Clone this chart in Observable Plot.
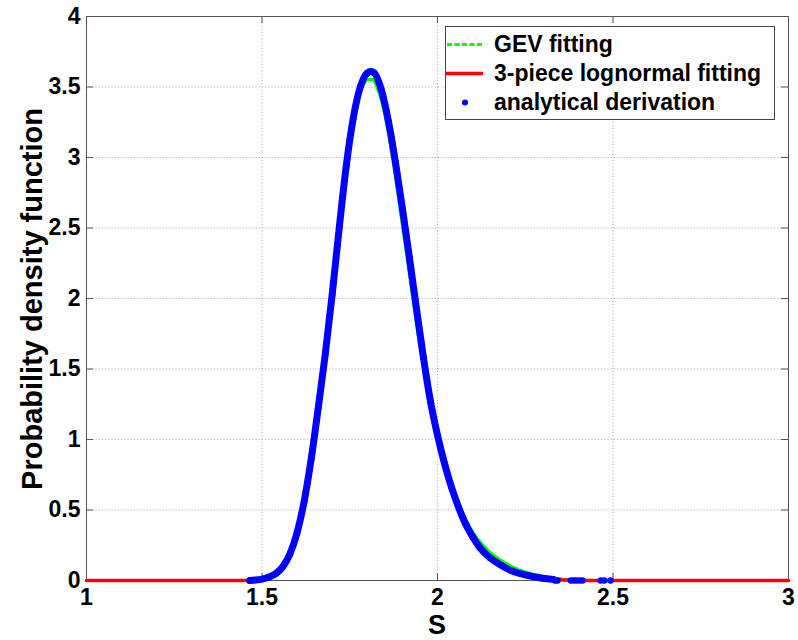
<!DOCTYPE html>
<html>
<head>
<meta charset="utf-8">
<script src="https://cdn.jsdelivr.net/npm/d3@7"></script>
<script src="https://cdn.jsdelivr.net/npm/@observablehq/plot@0.6"></script>
<style>
  body { margin: 0; background: #fff; }
  #wrap { position: relative; width: 798px; height: 640px; font-family: "Liberation Sans", Arial, sans-serif; font-weight: bold; color: #000; }
  #wrap svg { position: absolute; left: 0; top: 0; }
  .ylabel { position: absolute; left: 32px; top: 299px; transform: translate(-50%, -50%) rotate(-90deg); white-space: nowrap; font-size: 29px; line-height: 28px; }
  .xlabel { position: absolute; left: 437px; top: 615px; transform: translateX(-50%); font-size: 27px; line-height: 20px; }
  .legend { position: absolute; left: 445px; top: 26px; width: 328px; height: 92px; border: 1px solid #444; background: #fff; }
  .legend .row { position: absolute; left: 0; height: 29px; width: 100%; }
  .legend .row svg { position: absolute; left: 6px; top: 0; }
  .legend .row span { position: absolute; left: 48px; top: 0; font-size: 23px; line-height: 29px; white-space: nowrap; }
</style>
</head>
<body>
<div id="wrap"></div>
<script>
// Axis ticks and labels
const xTicks = [1, 1.5, 2, 2.5, 3];
const xTickLabels = ["1", "1.5", "2", "2.5", "3"];
const yTicks = [0, 0.5, 1, 1.5, 2, 2.5, 3, 3.5, 4];
const yTickLabels = ["0", "0.5", "1", "1.5", "2", "2.5", "3", "3.5", "4"];

// Series names
const seriesNames = ["GEV fitting", "3-piece lognormal fitting", "analytical derivation"];

// GEV fitting
const gevS   = [1.47, 1.50, 1.52, 1.54, 1.56, 1.58, 1.60, 1.62, 1.64, 1.66, 1.68, 1.70, 1.72, 1.74, 1.76, 1.78, 1.80, 1.815, 1.83, 1.85, 1.87, 1.89, 1.91, 1.93, 1.95, 1.97, 1.99, 2.01, 2.03, 2.05, 2.07, 2.09, 2.11, 2.13, 2.16, 2.19, 2.22, 2.26, 2.30, 2.35, 2.40, 2.45];
const gevPdf = [0, 0.01, 0.03, 0.06, 0.11, 0.20, 0.35, 0.57, 0.88, 1.25, 1.66, 2.09, 2.55, 3.00, 3.30, 3.47, 3.55, 3.555, 3.48, 3.30, 3.02, 2.69, 2.34, 1.99, 1.66, 1.37, 1.13, 0.93, 0.75, 0.61, 0.49, 0.39, 0.31, 0.25, 0.18, 0.13, 0.09, 0.055, 0.03, 0.012, 0.004, 0];

// 3-piece lognormal fitting
const lognS   = [1.0, 1.2, 1.4, 1.465, 1.48, 1.50, 1.52, 1.54, 1.56, 1.58, 1.60, 1.62, 1.64, 1.66, 1.68, 1.70, 1.72, 1.74, 1.76, 1.78, 1.80, 1.81, 1.82, 1.84, 1.86, 1.88, 1.90, 1.92, 1.94, 1.96, 1.98, 2.00, 2.02, 2.04, 2.06, 2.08, 2.10, 2.12, 2.15, 2.18, 2.21, 2.25, 2.29, 2.33, 2.36, 2.40, 2.6, 2.8, 3.0];
const lognPdf = [0, 0, 0, 0, 0.003, 0.01, 0.025, 0.05, 0.10, 0.19, 0.34, 0.56, 0.86, 1.22, 1.60, 2.03, 2.50, 2.94, 3.28, 3.50, 3.59, 3.60, 3.59, 3.48, 3.26, 2.97, 2.64, 2.29, 1.93, 1.58, 1.27, 1.03, 0.83, 0.66, 0.52, 0.40, 0.31, 0.235, 0.16, 0.11, 0.07, 0.04, 0.02, 0.008, 0.003, 0, 0, 0, 0];

// Analytical derivation (main body)
const anaS   = [1.465, 1.48, 1.50, 1.52, 1.54, 1.56, 1.58, 1.60, 1.62, 1.64, 1.66, 1.68, 1.70, 1.72, 1.74, 1.76, 1.78, 1.80, 1.81, 1.82, 1.84, 1.86, 1.88, 1.90, 1.92, 1.94, 1.96, 1.98, 2.00, 2.02, 2.04, 2.06, 2.08, 2.10, 2.12, 2.15, 2.18, 2.21, 2.25, 2.29, 2.33];
const anaPdf = [0, 0.003, 0.01, 0.025, 0.05, 0.10, 0.19, 0.34, 0.56, 0.86, 1.22, 1.60, 2.03, 2.50, 2.94, 3.28, 3.50, 3.60, 3.61, 3.60, 3.48, 3.26, 2.97, 2.64, 2.29, 1.93, 1.58, 1.27, 1.03, 0.83, 0.66, 0.52, 0.40, 0.31, 0.235, 0.16, 0.11, 0.07, 0.04, 0.02, 0.008];
// Analytical derivation (sparse upper tail)
const tailS   = [2.335, 2.342, 2.38, 2.388, 2.396, 2.405, 2.413, 2.465, 2.475, 2.493];
const tailPdf = [0, 0, 0, 0, 0, 0, 0, 0, 0, 0];

const colors = { gev: "#00ff00", logn: "#ff0000", ana: "#0000ff" };

const gev  = gevS.map((s, i) => ({ s, p: gevPdf[i] }));
const logn = lognS.map((s, i) => ({ s, p: lognPdf[i] }));
const ana  = anaS.map((s, i) => ({ s, p: anaPdf[i] }));
const tail = tailS.map((s, i) => ({ s, p: tailPdf[i] }));

const width = 798, height = 640;
const mTop = 16, mBottom = 60, mLeft = 86, mRight = 10;
const tickLen = 7;
const frameH = height - mTop - mBottom;
const frameW = width - mLeft - mRight;

const chart = Plot.plot({
  width, height,
  marginTop: mTop, marginBottom: mBottom, marginLeft: mLeft, marginRight: mRight,
  style: { fontFamily: "Liberation Sans, Arial, sans-serif", fontSize: "23px", fontWeight: "bold", background: "transparent", color: "#000" },
  x: { domain: [1, 3], axis: null },
  y: { domain: [0, 4], axis: null },
  marks: [
    // dotted grid
    Plot.gridX(xTicks, { stroke: "#a8a8a8", strokeOpacity: 1, strokeDasharray: "1,2.2" }),
    Plot.gridY(yTicks, { stroke: "#a8a8a8", strokeOpacity: 1, strokeDasharray: "1,2.2" }),
    // box
    Plot.frame({ stroke: "#555" }),
    // inward tick marks on all four sides
    Plot.tickX(xTicks, { x: d => d, stroke: "#555", insetTop: frameH - tickLen }),
    Plot.tickX(xTicks, { x: d => d, stroke: "#555", insetBottom: frameH - tickLen }),
    Plot.tickY(yTicks, { y: d => d, stroke: "#555", insetRight: frameW - tickLen }),
    Plot.tickY(yTicks, { y: d => d, stroke: "#555", insetLeft: frameW - tickLen }),
    // curves
    Plot.line(gev, { x: "s", y: "p", stroke: colors.gev, strokeWidth: 3, strokeDasharray: "5,2.5", curve: "monotone-x" }),
    Plot.line(logn, { x: "s", y: "p", stroke: colors.logn, strokeWidth: 3.5, curve: "monotone-x" }),
    Plot.line(ana, { x: "s", y: "p", stroke: colors.ana, strokeWidth: 7, strokeLinecap: "round", curve: "monotone-x" }),
    Plot.dot(ana.concat(tail), { x: "s", y: "p", r: 3.2, fill: colors.ana, stroke: null }),
    // tick labels
    Plot.axisX({ ticks: xTicks, tickSize: 0, tickPadding: 8, tickFormat: (d) => xTickLabels[xTicks.indexOf(d)], label: null, fontSize: 23, fontWeight: "bold" }),
    Plot.axisY({ ticks: yTicks, tickSize: 0, tickPadding: 6, tickFormat: (d) => yTickLabels[yTicks.indexOf(d)], label: null, fontSize: 23, fontWeight: "bold" })
  ]
});

const wrap = document.getElementById("wrap");
wrap.appendChild(chart);

const yl = document.createElement("div");
yl.className = "ylabel";
yl.textContent = "Probability density function";
wrap.appendChild(yl);

const xl = document.createElement("div");
xl.className = "xlabel";
xl.textContent = "S";
wrap.appendChild(xl);

// legend
const legend = document.createElement("div");
legend.className = "legend";
const swatches = [
  `<line x1="1" y1="14.5" x2="37" y2="14.5" stroke="${colors.gev}" stroke-width="3" stroke-dasharray="5,2.5"/>`,
  `<line x1="0" y1="14.5" x2="37" y2="14.5" stroke="${colors.logn}" stroke-width="3.5"/>`,
  `<circle cx="19" cy="14.5" r="3" fill="${colors.ana}"/>`
];
seriesNames.forEach((name, i) => {
  const row = document.createElement("div");
  row.className = "row";
  row.style.top = (3 + 29 * i) + "px";
  row.innerHTML = `<svg width="38" height="29">${swatches[i]}</svg><span>${name}</span>`;
  legend.appendChild(row);
});
wrap.appendChild(legend);
</script>
</body>
</html>
